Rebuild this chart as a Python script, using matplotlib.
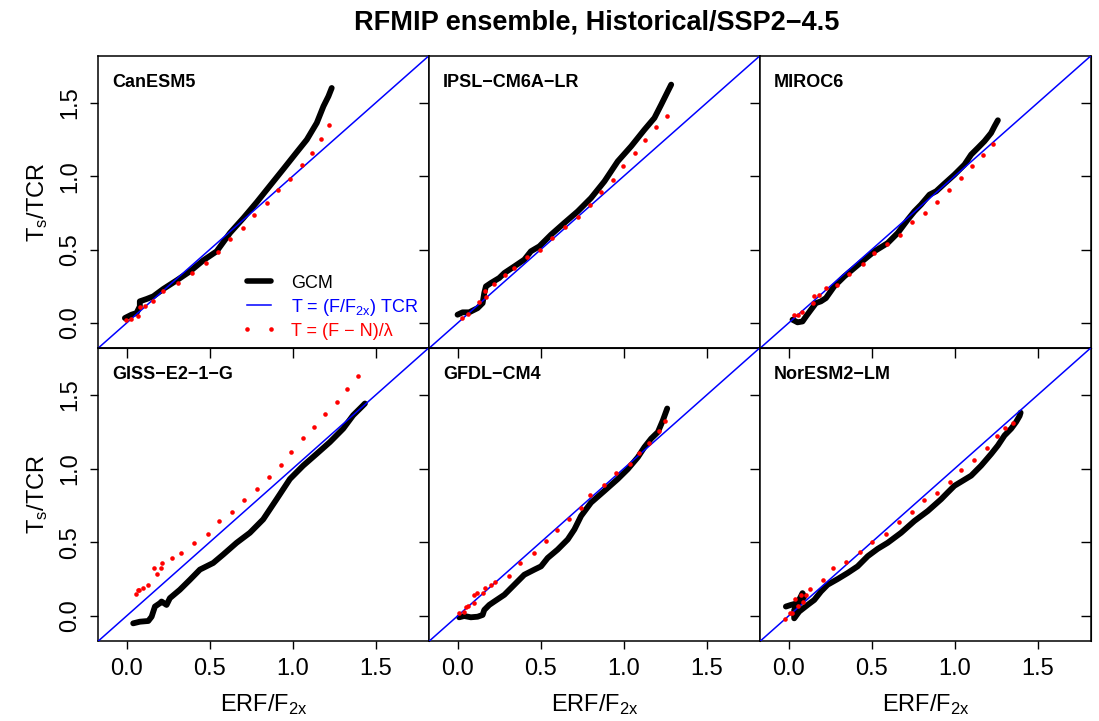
import matplotlib
matplotlib.use("Agg")
import matplotlib.pyplot as plt
from matplotlib.lines import Line2D
import numpy as np

plt.rcParams['font.family'] = ['Liberation Sans', 'DejaVu Sans']
plt.rcParams['mathtext.fontset'] = 'custom'
plt.rcParams['mathtext.rm'] = 'Liberation Sans'
plt.rcParams['mathtext.it'] = 'Liberation Sans:italic'
plt.rcParams['mathtext.bf'] = 'Liberation Sans:bold'

title = "RFMIP ensemble, Historical/SSP2\u22124.5"
models = ["CanESM5", "IPSL\u2212CM6A\u2212LR", "MIROC6",
          "GISS\u2212E2\u22121\u2212G", "GFDL\u2212CM4", "NorESM2\u2212LM"]
ticks = [0.0, 0.5, 1.0, 1.5]
tick_labels = ["0.0", "0.5", "1.0", "1.5"]

# GCM curves (ERF/F2x, Ts/TCR)
gcm_x = {
    "CanESM5": [-0.01, 0.030, 0.060, 0.080, 0.080, 0.121, 0.161, 0.221, 0.302, 0.382, 0.462, 0.543,
                0.623, 0.704, 0.784, 0.864, 0.945, 1.025, 1.086, 1.146, 1.186, 1.216, 1.236],
    "IPSL": [0.0, 0.030, 0.070, 0.121, 0.151, 0.161, 0.171, 0.201, 0.251, 0.282, 0.342, 0.402, 0.442,
             0.493, 0.563, 0.643, 0.724, 0.804, 0.885, 0.965, 1.046, 1.126, 1.186, 1.227, 1.267, 1.287],
    "MIROC6": [0.024, 0.054, 0.084, 0.105, 0.135, 0.165, 0.195, 0.225, 0.275, 0.336, 0.396, 0.456,
               0.517, 0.597, 0.658, 0.718, 0.758, 0.798, 0.849, 0.889, 0.939, 0.999, 1.060, 1.100,
               1.140, 1.180, 1.220, 1.241, 1.261],
    "GISS": [0.040, 0.080, 0.131, 0.151, 0.171, 0.201, 0.211, 0.241, 0.261, 0.321, 0.382, 0.442,
             0.522, 0.582, 0.663, 0.743, 0.823, 0.904, 0.984, 1.064, 1.145, 1.225, 1.305, 1.365,
             1.416, 1.436],
    "GFDL": [0.010, 0.040, 0.080, 0.121, 0.151, 0.161, 0.191, 0.221, 0.282, 0.342, 0.402, 0.463,
             0.503, 0.543, 0.603, 0.664, 0.704, 0.744, 0.804, 0.885, 0.965, 1.026, 1.086, 1.126,
             1.166, 1.207, 1.237, 1.263],
    "NorESM": [-0.016, 0.014, 0.054, 0.084, 0.095, 0.074, 0.034, 0.034, 0.064, 0.115, 0.155, 0.195,
               0.235, 0.296, 0.356, 0.416, 0.477, 0.537, 0.597, 0.678, 0.758, 0.839, 0.919, 0.959,
               0.999, 1.040, 1.100, 1.160, 1.221, 1.261, 1.301, 1.341, 1.371, 1.392, 1.398],
}
gcm_y = {
    "CanESM5": [0.034, 0.057, 0.068, 0.114, 0.148, 0.164, 0.182, 0.232, 0.291, 0.352, 0.427, 0.489,
                0.614, 0.716, 0.823, 0.936, 1.05, 1.164, 1.25, 1.364, 1.477, 1.545, 1.602],
    "IPSL": [0.057, 0.073, 0.073, 0.102, 0.136, 0.205, 0.25, 0.273, 0.307, 0.341, 0.386, 0.432, 0.489,
             0.523, 0.602, 0.682, 0.761, 0.852, 0.966, 1.102, 1.205, 1.318, 1.398, 1.489, 1.580, 1.625],
    "MIROC6": [0.023, 0.005, 0.011, 0.045, 0.091, 0.136, 0.148, 0.170, 0.25, 0.318, 0.375, 0.432,
               0.489, 0.545, 0.614, 0.705, 0.761, 0.807, 0.875, 0.898, 0.95, 1.011, 1.080, 1.148,
               1.193, 1.239, 1.295, 1.341, 1.382],
    "GISS": [-0.050, -0.039, -0.034, -0.005, 0.064, 0.087, 0.098, 0.075, 0.121, 0.178, 0.246, 0.315,
             0.360, 0.417, 0.497, 0.565, 0.656, 0.793, 0.930, 1.021, 1.101, 1.181, 1.272, 1.363,
             1.420, 1.443],
    "GFDL": [-0.009, 0.0, -0.009, -0.005, 0.007, 0.041, 0.075, 0.098, 0.144, 0.212, 0.280, 0.315,
             0.337, 0.394, 0.451, 0.520, 0.588, 0.679, 0.770, 0.850, 0.930, 0.998, 1.078, 1.147,
             1.204, 1.249, 1.329, 1.409],
    "NorESM": [0.064, 0.075, 0.087, 0.155, 0.132, 0.098, 0.041, -0.016, 0.030, 0.075, 0.109, 0.166,
               0.212, 0.251, 0.292, 0.337, 0.406, 0.456, 0.497, 0.565, 0.645, 0.713, 0.793, 0.839,
               0.884, 0.912, 0.953, 1.021, 1.101, 1.158, 1.226, 1.272, 1.318, 1.359, 1.381],
}

# Energy-balance estimate T = (F - N)/lambda
ebm_x = {
    "CanESM5": [-0.006, 0.024, 0.066, 0.080, 0.111, 0.157, 0.221, 0.312, 0.392, 0.476, 0.553, 0.623,
                0.700, 0.768, 0.844, 0.911, 0.985, 1.055, 1.120, 1.172, 1.218],
    "IPSL": [0.026, 0.060, 0.131, 0.171, 0.167, 0.217, 0.288, 0.342, 0.416, 0.497, 0.567, 0.647,
             0.724, 0.798, 0.867, 0.939, 0.999, 1.066, 1.132, 1.196, 1.259],
    "MIROC6": [0.034, 0.054, 0.080, 0.145, 0.155, 0.185, 0.223, 0.292, 0.366, 0.448, 0.517, 0.591,
               0.670, 0.742, 0.823, 0.893, 0.969, 1.036, 1.104, 1.172, 1.233],
    "GISS": [0.054, 0.066, 0.076, 0.100, 0.127, 0.165, 0.181, 0.207, 0.211, 0.271, 0.325, 0.408,
             0.488, 0.558, 0.637, 0.709, 0.787, 0.857, 0.928, 0.992, 1.060, 1.129, 1.195, 1.265,
             1.329, 1.396],
    "GFDL": [0.006, 0.040, 0.050, 0.064, 0.101, 0.097, 0.117, 0.153, 0.163, 0.201, 0.227, 0.308,
             0.378, 0.462, 0.531, 0.599, 0.670, 0.744, 0.800, 0.885, 0.957, 1.036, 1.096, 1.152,
             1.211, 1.247],
    "NorESM": [-0.020, 0.010, 0.020, 0.038, 0.058, 0.074, 0.090, 0.105, 0.129, 0.205, 0.269, 0.348,
               0.428, 0.503, 0.589, 0.664, 0.742, 0.814, 0.893, 0.971, 1.040, 1.120, 1.194, 1.257,
               1.305, 1.353],
}
ebm_y = {
    "CanESM5": [0.018, 0.027, 0.050, 0.109, 0.114, 0.150, 0.220, 0.273, 0.339, 0.409, 0.486, 0.573,
                0.650, 0.736, 0.816, 0.905, 0.984, 1.075, 1.161, 1.257, 1.352],
    "IPSL": [0.034, 0.064, 0.141, 0.175, 0.218, 0.266, 0.330, 0.375, 0.45, 0.5, 0.582, 0.655,
             0.723, 0.805, 0.895, 0.977, 1.068, 1.159, 1.248, 1.334, 1.411],
    "MIROC6": [0.057, 0.057, 0.077, 0.136, 0.186, 0.189, 0.236, 0.261, 0.332, 0.405, 0.480, 0.541,
               0.602, 0.686, 0.752, 0.825, 0.905, 0.991, 1.068, 1.148, 1.223],
    "GISS": [0.148, 0.173, 0.178, 0.187, 0.212, 0.324, 0.287, 0.324, 0.358, 0.394, 0.429, 0.497,
             0.558, 0.645, 0.709, 0.791, 0.862, 0.946, 1.026, 1.117, 1.206, 1.286, 1.370, 1.452,
             1.541, 1.630],
    "GFDL": [0.018, 0.027, 0.064, 0.071, 0.087, 0.141, 0.153, 0.153, 0.189, 0.210, 0.228, 0.271,
             0.360, 0.429, 0.506, 0.584, 0.661, 0.734, 0.823, 0.889, 0.969, 1.033, 1.110, 1.178,
             1.256, 1.324],
    "NorESM": [-0.018, 0.023, 0.018, 0.114, 0.068, 0.144, 0.098, 0.144, 0.182, 0.242, 0.328, 0.365,
               0.433, 0.499, 0.558, 0.636, 0.707, 0.789, 0.837, 0.907, 0.994, 1.062, 1.142, 1.220,
               1.274, 1.311],
}
keys = ["CanESM5", "IPSL", "MIROC6", "GISS", "GFDL", "NorESM"]

W, H = 1099, 721
fig = plt.figure(figsize=(W / 100, H / 100), dpi=100)

col_edges = [98, 429, 760, 1091]
row_edges = [56, 348, 641]
xlim = (-0.172, 1.822)
ylim = (-0.17, 1.82)
TFS = 17

for i, key in enumerate(keys):
    r, c = divmod(i, 3)
    x0, x1 = col_edges[c], col_edges[c + 1]
    y0, y1 = row_edges[r], row_edges[r + 1]
    ax = fig.add_axes([x0 / W, 1 - y1 / H, (x1 - x0) / W, (y1 - y0) / H])
    ax.plot(gcm_x[key], gcm_y[key], color='black', lw=4.2, solid_capstyle='round',
            solid_joinstyle='round', zorder=2)
    ax.axline((0, 0), slope=1, color='#0000ff', lw=1.1, zorder=3)
    ax.plot(ebm_x[key], ebm_y[key], linestyle='none', marker='o', ms=3.3,
            color='#ff0000', mec='none', zorder=4)
    ax.set_xlim(*xlim)
    ax.set_ylim(*ylim)
    for s in ax.spines.values():
        s.set_linewidth(1.1)
    ax.set_xticks(ticks)
    ax.set_yticks(ticks)
    ax.tick_params(axis='both', direction='out', length=6, width=1.0, labelsize=TFS, pad=6)
    if c == 0:
        ax.set_yticklabels(tick_labels, rotation=90, va='center')
        ax.set_ylabel("T$_{\\mathrm{s}}$/TCR", fontsize=TFS, labelpad=7)
    else:
        ax.tick_params(axis='y', left=False, labelleft=False)
    if r == 1:
        ax.set_xticklabels(tick_labels)
        ax.set_xlabel("ERF/F$_{\\mathrm{2x}}$", fontsize=TFS, labelpad=9)
        sx = ax.secondary_xaxis('top')
        sx.set_xticks(ticks)
        sx.tick_params(direction='in', length=7, width=1.0, labeltop=False)
    else:
        ax.tick_params(axis='x', bottom=False, labelbottom=False)
    sy = ax.secondary_yaxis('right')
    sy.set_yticks(ticks)
    sy.tick_params(direction='in', length=7, width=1.0, labelright=False)
    ax.text(0.042, 0.91, models[i], transform=ax.transAxes, fontsize=13,
            fontweight='bold', ha='left', va='center')
    if i == 0:
        handles = [
            Line2D([], [], color='black', lw=4.0, solid_capstyle='round'),
            Line2D([], [], color='#0000ff', lw=1.1),
            Line2D([], [], color='#ff0000', linestyle='none', marker='o', ms=3.3, mec='none'),
        ]
        labels = ["GCM", "T = (F/F$_{\\mathrm{2x}}$) TCR", "T = (F \u2212 N)/\u03bb"]
        leg = ax.legend(handles, labels, loc='center left', bbox_to_anchor=(0.434, 0.14),
                        frameon=False, fontsize=13, handlelength=1.95, numpoints=2,
                        labelspacing=0.28, handletextpad=0.8, borderpad=0.0,
                        borderaxespad=0.0)
        for t, col in zip(leg.get_texts(), ['black', '#0000ff', '#ff0000']):
            t.set_color(col)

fig.text(597 / W, 1 - 22 / H, title, ha='center', va='center', fontsize=19.5,
         fontweight='bold')

fig.savefig("out.png", dpi=100)
